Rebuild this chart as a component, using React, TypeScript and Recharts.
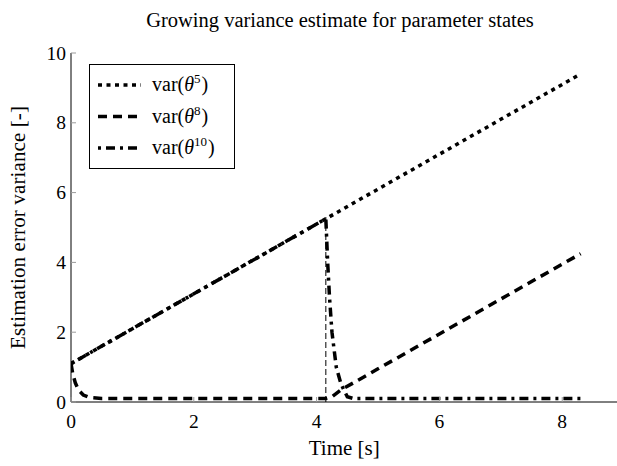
import { LineChart, Line, XAxis, YAxis, Label } from 'recharts'

const theta5X = [0, 1, 2, 3, 4.15, 5, 6, 7, 8.3]
const theta5Y = [1.1, 2.1, 3.1, 4.1, 5.25, 6.1, 7.1, 8.1, 9.4]

const theta8X = [0, 0.03, 0.07, 0.12, 0.2, 0.3, 0.5, 1, 2, 3, 4, 4.15, 4.25, 4.4, 5, 6, 7, 8.3]
const theta8Y = [1.1, 0.8, 0.55, 0.35, 0.2, 0.13, 0.1, 0.1, 0.1, 0.1, 0.1, 0.1, 0.15, 0.35, 0.95, 1.95, 2.95, 4.25]

const theta10X = [0, 1, 2, 3, 4, 4.15, 4.18, 4.21, 4.25, 4.32, 4.4, 4.5, 4.6, 5, 6, 7, 8, 8.3]
const theta10Y = [1.1, 2.1, 3.1, 4.1, 5.1, 5.25, 4.0, 3.0, 2.0, 1.0, 0.5, 0.15, 0.1, 0.1, 0.1, 0.1, 0.1, 0.1]

// thin marker at the moment theta10 gets measured
const resetX = [4.15, 4.15]
const resetY = [0, 5.3]

const xTicks = [0, 2, 4, 6, 8]
const yTicks = [0, 2, 4, 6, 8, 10]

const zip = (xs: number[], ys: number[]) => xs.map((x, i) => ({ x, y: ys[i] }))

const FONT = "'Liberation Serif', 'Times New Roman', serif"
const TICK_COLOR = '#9a9a9a'

const series = [
  { name: '5', data: zip(theta5X, theta5Y), dash: '4 4.5' },
  { name: '8', data: zip(theta8X, theta8Y), dash: '9 6' },
  { name: '10', data: zip(theta10X, theta10Y), dash: '3 5 9 5' },
]

const BottomTick = ({ x, y, payload }: any) => (
  <g>
    <line x1={x} x2={x} y1={y} y2={y - 5} stroke={TICK_COLOR} />
    <text x={x} y={y + 26} textAnchor="middle" fontFamily={FONT} fontSize={19.5} fill="#000">
      {payload.value}
    </text>
  </g>
)

const TopTick = ({ x, y }: any) => <line x1={x} x2={x} y1={y} y2={y + 5} stroke={TICK_COLOR} />

const LeftTick = ({ x, y, payload }: any) => (
  <g>
    <line x1={x} x2={x + 5} y1={y} y2={y} stroke={TICK_COLOR} />
    <text x={x - 5} y={y + 6.5} textAnchor="end" fontFamily={FONT} fontSize={19.5} fill="#000">
      {payload.value}
    </text>
  </g>
)

const RightTick = ({ x, y }: any) => <line x1={x} x2={x - 5} y1={y} y2={y} stroke={TICK_COLOR} />

function LegendBox() {
  return (
    <svg
      width={617}
      height={466}
      style={{ position: 'absolute', left: 0, top: 0, pointerEvents: 'none' }}
    >
      <text x={340} y={27} textAnchor="middle" fontFamily={FONT} fontSize={20.5} fill="#000">
        Growing variance estimate for parameter states
      </text>
      <rect x={89.5} y={64.5} width={145} height={104} fill="#fff" stroke="#000" />
      {series.map((s, i) => {
        const cy = 85 + i * 31.5
        return (
          <g key={s.name}>
            <line x1={98} x2={141} y1={cy} y2={cy} stroke="#000" strokeWidth={3.5} strokeDasharray={s.dash} />
            <text x={152} y={cy + 6} fontFamily={FONT} fontSize={20} fill="#000">
              var(<tspan fontStyle="italic">θ</tspan>
              <tspan fontSize={13} dy={-8}>
                {s.name}
              </tspan>
              <tspan dy={8} dx={1}>)</tspan>
            </text>
          </g>
        )
      })}
    </svg>
  )
}

export default function App() {
  return (
    <div style={{ position: 'absolute', left: 0, top: 0, width: 617, height: 466, overflow: 'hidden', background: '#fff' }}>
      <LineChart width={640} height={466} margin={{ top: 53, right: 22.5, bottom: 0, left: 0 }}>
        <XAxis
          xAxisId="b"
          type="number"
          dataKey="x"
          domain={[0, 8.9]}
          ticks={xTicks}
          allowDataOverflow
          height={64}
          tickSize={0}
          tickMargin={0}
          tickLine={false}
          axisLine={{ stroke: '#000' }}
          tick={<BottomTick />}
        >
          <Label
            content={({ viewBox }: any) => (
              <text
                x={viewBox.x + viewBox.width / 2}
                y={viewBox.y + 53}
                textAnchor="middle"
                fontFamily={FONT}
                fontSize={21}
                fill="#000"
              >
                Time [s]
              </text>
            )}
          />
        </XAxis>
        <XAxis
          xAxisId="t"
          orientation="top"
          type="number"
          dataKey="x"
          domain={[0, 8.9]}
          ticks={xTicks}
          allowDataOverflow
          height={0}
          tickSize={0}
          tickMargin={0}
          tickLine={false}
          axisLine={{ stroke: '#000' }}
          tick={<TopTick />}
        />
        <YAxis
          yAxisId="l"
          type="number"
          domain={[0, 10]}
          ticks={yTicks}
          allowDataOverflow
          width={71}
          tickSize={0}
          tickMargin={0}
          tickLine={false}
          axisLine={{ stroke: '#000' }}
          tick={<LeftTick />}
        >
          <Label
            content={({ viewBox }: any) => {
              const cx = 25
              const cy = viewBox.y + viewBox.height / 2
              return (
                <text
                  x={cx}
                  y={cy}
                  transform={`rotate(-90 ${cx} ${cy})`}
                  textAnchor="middle"
                  fontFamily={FONT}
                  fontSize={21}
                  textLength={243}
                  lengthAdjust="spacing"
                  fill="#000"
                >
                  Estimation error variance [-]
                </text>
              )
            }}
          />
        </YAxis>
        <YAxis
          yAxisId="r"
          orientation="right"
          type="number"
          domain={[0, 10]}
          ticks={yTicks}
          allowDataOverflow
          width={0}
          tickSize={0}
          tickMargin={0}
          tickLine={false}
          axisLine={{ stroke: '#000' }}
          tick={<RightTick />}
        />
        <Line
          xAxisId="t"
          yAxisId="r"
          data={zip(resetX, resetY)}
          dataKey="y"
          stroke="transparent"
          dot={false}
          legendType="none"
          isAnimationActive={false}
        />
        <Line
          xAxisId="b"
          yAxisId="l"
          data={zip(resetX, resetY)}
          dataKey="y"
          type="linear"
          stroke="#000"
          strokeWidth={1}
          strokeDasharray="6 3"
          dot={false}
          isAnimationActive={false}
        />
        {series.map((s) => (
          <Line
            key={s.name}
            xAxisId="b"
            yAxisId="l"
            data={s.data}
            dataKey="y"
            type="linear"
            stroke="#000"
            strokeWidth={3.5}
            strokeDasharray={s.dash}
            strokeLinecap="butt"
            dot={false}
            isAnimationActive={false}
          />
        ))}
      </LineChart>
      <LegendBox />
    </div>
  )
}
